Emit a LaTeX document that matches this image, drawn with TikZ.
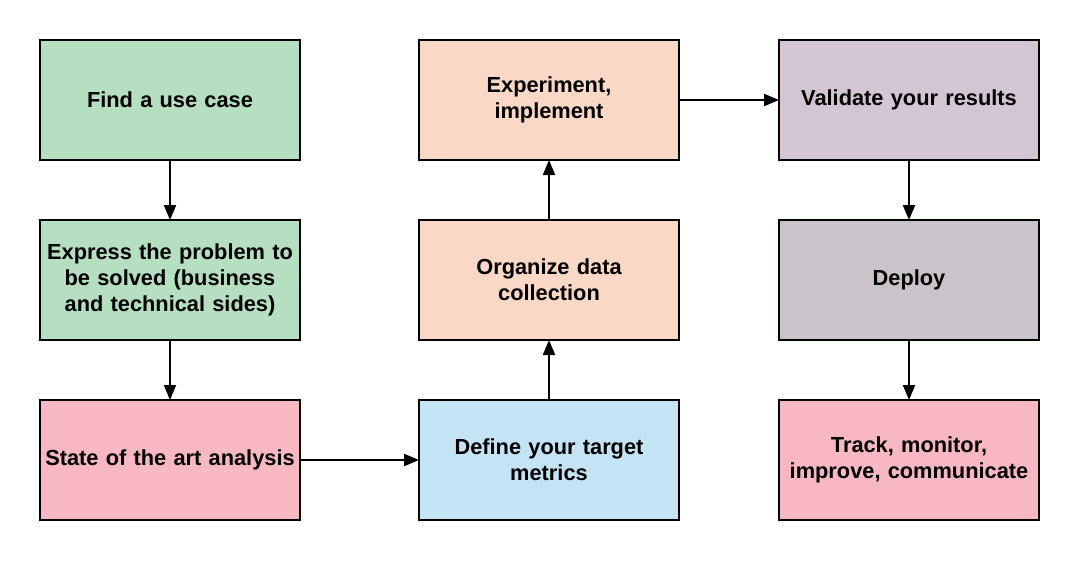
\documentclass[tikz,border=0pt]{standalone}
\usepackage{fontspec}
\setmainfont{Liberation Sans}
\usetikzlibrary{positioning, arrows.meta}

\definecolor{stepgreen}{HTML}{B5DFC0}
\definecolor{steppink}{HTML}{F7B8C1}
\definecolor{stepblue}{HTML}{C4E4F4}
\definecolor{steppeach}{HTML}{FAD8C6}
\definecolor{stepmauve}{HTML}{D3C5D3}
\definecolor{stepgrey}{HTML}{CAC3CA}

\begin{document}
\begin{tikzpicture}[node distance=0.6cm, >={Triangle[length=1.5mm,width=1.2mm]},
        stepbox/.style={draw, rectangle, line width=0.6pt, outer sep=0pt, inner xsep=0pt, text width=2.56cm, minimum height=1.2cm, minimum width=2.6cm, align=center, font=\fontsize{6.2}{7.4}\selectfont\bfseries}]
        \useasboundingbox (0,0) rectangle (10.8,-5.6);
        \node[stepbox, fill=stepgreen] (usecase) at (1.7,-1.0) {Find a use case};
        \node[stepbox, fill=stepgreen, below=of usecase] (problem) {Express the problem to\\be solved (business\\and technical sides)};
        \node[stepbox, fill=steppink, below=of problem] (stateart) {State of the art analysis};
        \node[stepbox, fill=stepblue, right=1.19cm of stateart] (metrics) {Define your target\\metrics};
        \node[stepbox, fill=steppeach, above=of metrics] (datacoll) {Organize data\\collection};
        \node[stepbox, fill=steppeach, above=of datacoll] (experiment) {Experiment,\\implement};
        \node[stepbox, fill=stepmauve, right=1.0cm of experiment] (validate) {Validate your results};
        \node[stepbox, fill=stepgrey, below=of validate] (deploy) {Deploy};
        \node[stepbox, fill=steppink, below=of deploy] (track) {Track, monitor,\\improve, communicate};

        \draw[->, line width=0.6pt] (usecase) -- (problem);
        \draw[->, line width=0.6pt] (problem) -- (stateart);
        \draw[->, line width=0.6pt] (stateart) -- (metrics);
        \draw[->, line width=0.6pt] (metrics) -- (datacoll);
        \draw[->, line width=0.6pt] (datacoll) -- (experiment);
        \draw[->, line width=0.6pt] (experiment) -- (validate);
        \draw[->, line width=0.6pt] (validate) -- (deploy);
        \draw[->, line width=0.6pt] (deploy) -- (track);
\end{tikzpicture}
\end{document}
